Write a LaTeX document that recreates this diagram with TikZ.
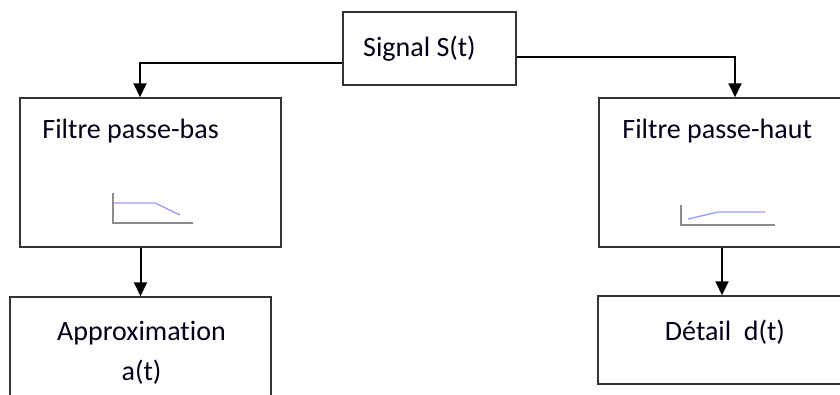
\documentclass[tikz,border=0pt]{standalone}
\usepackage{fontspec}
\setmainfont[Ligatures=NoCommon]{Carlito}
\usepackage{tikz}
\usetikzlibrary{arrows.meta,positioning}
\tikzstyle{bloc}=[draw=black!80,line width=1.5pt,inner sep=0pt,minimum width=261pt]
\tikzstyle{texte}=[inner sep=0pt,text=black!90!blue,font=\fontsize{28}{34}\selectfont]
\tikzstyle{fleche}=[line width=2pt,-{Triangle[width=13pt,length=14pt]}]
\tikzstyle{axe}=[draw=black!45,line width=1.6pt]
\tikzstyle{courbe}=[draw=blue!40,line width=1.3pt]

\begin{document}
\begin{tikzpicture}[x=1pt,y=-1pt]
\useasboundingbox (0,0) rectangle (840,394);
\clip (0,0) rectangle (840,394);
\begin{scope}
    % blocs
    \node [bloc,minimum width=173pt,minimum height=73pt] (sig) at (429.5,48.5) {};
    \node [bloc,minimum height=149pt] (pb) at (150.5,172.5) {};
    \node [bloc,minimum height=149pt] (ph) at (729.5,172.5) {};
    \node [bloc,minimum height=149pt] (ap) at (140.5,371.5) {};
    \node [bloc,minimum height=88pt] (dt) at (728.5,340) {};
    % textes
    \node [texte,anchor=base west] (sigt) at (363,56) {Signal S(t)};
    \node [texte,anchor=base west] (pbt) at ([xshift=23pt,yshift=-41pt]pb.north west) {Filtre passe-bas};
    \node [texte,anchor=base west] (pht) at ([xshift=24pt,yshift=-41pt]ph.north west) {Filtre passe-haut};
    \node [texte,anchor=base] (apx) at (141.5,340) {Approximation};
    \node [texte,anchor=base] (apt) at ([yshift=-40pt]apx.base) {a(t)};
    \node [texte,anchor=base] (dtt) at (725,340) {Détail\ \ d(t)};
    % liaisons
    \draw [fleche] ([yshift=-14.5pt]sig.west) -| ([xshift=-10.5pt]pb.north);
    \draw [fleche] ([yshift=-8.5pt]sig.east) -| ([xshift=5.5pt]ph.north);
    \draw [fleche] (ap.north |- pb.south) -- (ap.north);
    \draw [fleche] ([xshift=-6.5pt]dt.north |- ph.south) -- ([xshift=-6.5pt]dt.north);
    % passe-bas
    \draw [axe] (113,193) -- (113,223) -- (193,223);
    \draw [courbe] (114,203) -- (155,203) -- (180,215);
    % passe-haut
    \draw [axe] (681,205) -- (681,225) -- (775,225);
    \draw [courbe] (688,219) -- (718,212) -- (765,212);
\end{scope}
\end{tikzpicture}
\end{document}
